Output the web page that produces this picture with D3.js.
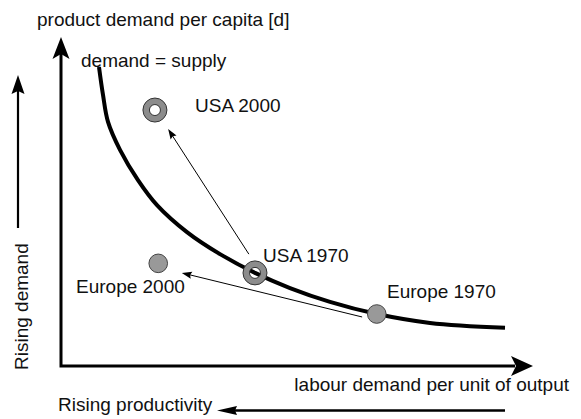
<!DOCTYPE html>
<html lang="en">
<head>
    <meta charset="UTF-8">
    <title>demand = supply</title>
    <script src="https://cdnjs.cloudflare.com/ajax/libs/d3/7.8.5/d3.min.js"></script>
    <style>
        body { margin: 0; background: #fff; }
        svg { width: 581px; height: 419px; display: block; }
        text { font-family: "Liberation Sans", Arial, Helvetica, sans-serif; font-size: 19px; fill: #111; }
    </style>
</head>
<body>
    <svg></svg>

    <script>
        // demand = supply curve (labour demand per unit of output, product demand per capita)
        const curveX = [8.05, 8.90, 9.96, 12.50, 16.31, 20.34, 26.69, 33.69, 41.10, 48.52, 56.99, 66.95, 78.18, 94.07];
        const curveY = [90.9, 82.4, 74.2, 65.7, 56.5, 48.9, 40.7, 34.0, 28.3, 23.7, 19.5, 15.8, 13.1, 11.6];

        const pointNames = ['USA 2000', 'USA 1970', 'Europe 2000', 'Europe 1970'];
        const pointX = [19.9, 41.1, 20.6, 66.9];
        const pointY = [77.8, 28.3, 31.2, 15.8];
        const pointRing = [true, true, false, false];

        // shifts 1970 -> 2000
        const arrowFrom = [[39.8, 34.0], [63.8, 14.9]];
        const arrowTo = [[22.7, 72.0], [25.6, 28.3]];

        const svg = d3.select('svg');

        const x = d3.scaleLinear().domain([0, 100]).range([61, 533]);
        const y = d3.scaleLinear().domain([0, 100]).range([366, 37]);

        const head = (tx, ty, angle, len, half, notch) => {
            const p = [[0, 0], [-len, -half], [-len + notch, 0], [-len, half]];
            const c = Math.cos(angle), s = Math.sin(angle);
            return 'M' + p.map(([a, b]) => [tx + a * c - b * s, ty + a * s + b * c].join(',')).join('L') + 'Z';
        };

        // axes
        svg.append('path')
            .attr('d', `M${x(0)},${y(100) + 10}L${x(0)},${y(0)}L${x(100) - 18},${y(0)}`)
            .attr('fill', 'none')
            .attr('stroke', '#000')
            .attr('stroke-width', 3);
        svg.append('path').attr('d', head(x(0), y(100), -Math.PI / 2, 22, 8.5, 5));
        svg.append('path').attr('d', head(x(100), y(0), 0, 22, 10, 5));

        // side arrows
        svg.append('line')
            .attr('x1', 18).attr('y1', 228).attr('x2', 18).attr('y2', 86)
            .attr('stroke', '#000').attr('stroke-width', 2.2);
        svg.append('path').attr('d', head(18, 75, -Math.PI / 2, 19, 6.5, 3));

        svg.append('line')
            .attr('x1', 505).attr('y1', 410.5).attr('x2', 228).attr('y2', 410.5)
            .attr('stroke', '#000').attr('stroke-width', 2.5);
        svg.append('path').attr('d', head(217, 410.5, Math.PI, 20, 4.5, 2));

        // curve
        svg.append('path')
            .datum(d3.zip(curveX, curveY))
            .attr('fill', 'none')
            .attr('stroke', '#000')
            .attr('stroke-width', 4)
            .attr('d', d3.line().x(d => x(d[0])).y(d => y(d[1])).curve(d3.curveCatmullRom));

        // shift arrows
        arrowFrom.forEach((f, i) => {
            const t = arrowTo[i];
            const x1 = x(f[0]), y1 = y(f[1]), x2 = x(t[0]), y2 = y(t[1]);
            const a = Math.atan2(y2 - y1, x2 - x1);
            svg.append('line')
                .attr('x1', x1).attr('y1', y1)
                .attr('x2', x2 - 6 * Math.cos(a)).attr('y2', y2 - 6 * Math.sin(a))
                .attr('stroke', '#000').attr('stroke-width', 1);
            svg.append('path').attr('d', head(x2, y2, a, 10, 3.5, 1.5));
        });

        // points
        pointNames.forEach((name, i) => {
            const cx = x(pointX[i]), cy = y(pointY[i]);
            if (pointRing[i]) {
                svg.append('path')
                    .attr('d', `M${cx - 12},${cy}a12,12 0 1,0 24,0a12,12 0 1,0 -24,0Z` +
                        `M${cx - 5.5},${cy}a5.5,5.5 0 1,0 11,0a5.5,5.5 0 1,0 -11,0Z`)
                    .attr('fill', '#8c8c8c')
                    .attr('fill-rule', 'evenodd')
                    .attr('stroke', '#333')
                    .attr('stroke-width', 1);
            } else {
                svg.append('circle')
                    .attr('cx', cx).attr('cy', cy).attr('r', 9.3)
                    .attr('fill', '#999')
                    .attr('stroke', '#444')
                    .attr('stroke-width', 1);
            }
        });

        // labels
        const labels = [
            ['product demand per capita [d]', 37, 26, 'start'],
            ['demand = supply', 81, 67, 'start'],
            ['USA 2000', 195, 112, 'start'],
            ['USA 1970', 263, 262, 'start'],
            ['Europe 2000', 76, 293, 'start'],
            ['Europe 1970', 387, 298, 'start'],
            ['labour demand per unit of output', 569, 391, 'end'],
            ['Rising productivity', 58, 411, 'start']
        ];
        svg.selectAll('text.lbl')
            .data(labels).enter().append('text')
            .classed('lbl', true)
            .attr('x', d => d[1])
            .attr('y', d => d[2])
            .attr('text-anchor', d => d[3])
            .text(d => d[0]);

        svg.append('text')
            .attr('transform', 'translate(28, 370)rotate(-90)')
            .text('Rising demand');
    </script>
</body>
</html>
